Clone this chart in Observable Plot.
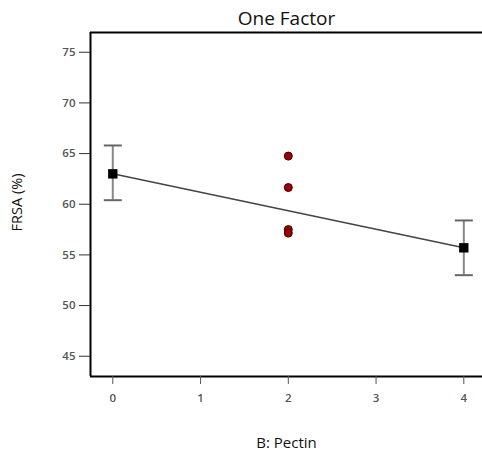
<!DOCTYPE html>
<html>
<head>
<meta charset="utf-8">
<script src="https://cdn.jsdelivr.net/npm/d3@7"></script>
<script src="https://cdn.jsdelivr.net/npm/@observablehq/plot@0.6"></script>
<style>
  html, body { margin: 0; padding: 0; background: #fff; }
  #chart svg { display: block; }
</style>
</head>
<body>
<div id="chart"></div>
<script>
// Data
const title = "One Factor";
const xLabel = "B: Pectin";
const yLabel = "FRSA (%)";
const xTicks = [0, 1, 2, 3, 4];
const yTicks = [45, 50, 55, 60, 65, 70, 75];

// Predicted means with confidence intervals
const meanX = [0, 4];
const meanY = [63.0, 55.7];
const lowY = [60.4, 53.0];
const highY = [65.8, 58.4];

// Observed design points
const obsX = [2, 2, 2, 2];
const obsY = [64.75, 61.65, 57.5, 57.15];

const means = meanX.map((x, i) => ({x, y: meanY[i], lo: lowY[i], hi: highY[i]}));
const obs = obsX.map((x, i) => ({x, y: obsY[i]}));

const xDomain = [-0.254, 4.213];
const yDomain = [43.0, 76.95];

// horizontal line symbol for error-bar caps
const capSymbol = {
  draw(context, size) {
    const r = Math.sqrt(size / Math.PI);
    context.moveTo(-r, 0);
    context.lineTo(r, 0);
  }
};

const chart = Plot.plot({
  width: 482,
  height: 452,
  marginLeft: 90,
  marginRight: 0,
  marginTop: 32,
  marginBottom: 76,
  style: {fontFamily: "'Open Sans', sans-serif", background: "#fff"},
  x: {type: "linear", domain: xDomain},
  y: {type: "linear", domain: yDomain},
  marks: [
    // frame lines (left, top, bottom)
    Plot.ruleX([xDomain[0]], {stroke: "#000", strokeWidth: 2}),
    Plot.ruleY([yDomain[1]], {stroke: "#000", strokeWidth: 2}),
    Plot.ruleY([yDomain[0]], {stroke: "#000", strokeWidth: 2}),
    // axes
    Plot.axisY({ticks: yTicks, tickFormat: d3.format("d"), tickSize: 11, tickPadding: 4, stroke: "#333", fill: "#555", fontSize: 11.5, fontWeight: 600, label: null}),
    Plot.axisX({ticks: xTicks, tickFormat: d3.format("d"), tickSize: 8, tickPadding: 9, stroke: "#555", fill: "#555", fontSize: 11.5, fontWeight: 600, label: null}),
    // axis labels and title
    Plot.text([yLabel], {frameAnchor: "left", textAnchor: "middle", lineAnchor: "middle", dx: -73, dy: -2, rotate: -90, fontSize: 14.5, fill: "#111"}),
    Plot.text([xLabel], {frameAnchor: "bottom", textAnchor: "middle", lineAnchor: "middle", dy: 67, fontSize: 15, fill: "#111"}),
    Plot.text([title], {frameAnchor: "top", textAnchor: "middle", lineAnchor: "middle", dy: -14, fontSize: 19, fill: "#111"}),
    // fitted line
    Plot.line(means, {x: "x", y: "y", stroke: "#444", strokeWidth: 1.5}),
    // error bars
    Plot.ruleX(means, {x: "x", y1: "lo", y2: "hi", stroke: "#888", strokeWidth: 2}),
    Plot.dot(means, {x: "x", y: "lo", symbol: capSymbol, r: 9, fill: "none", stroke: "#666", strokeWidth: 2}),
    Plot.dot(means, {x: "x", y: "hi", symbol: capSymbol, r: 9, fill: "none", stroke: "#666", strokeWidth: 2}),
    // mean squares
    Plot.dot(means, {x: "x", y: "y", symbol: "square", r: 5.3, fill: "#000", stroke: "none"}),
    // observed points
    Plot.dot(obs, {x: "x", y: "y", r: 4, fill: "#a00000", stroke: "#3a0000", strokeWidth: 1})
  ]
});
document.getElementById("chart").appendChild(chart);
</script>
</body>
</html>
